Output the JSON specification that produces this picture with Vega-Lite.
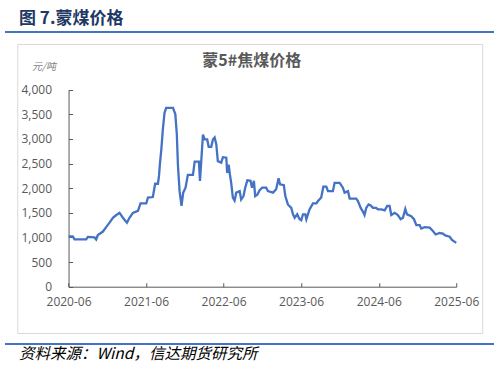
{
  "$schema": "https://vega.github.io/schema/vega-lite/v6.json",
  "padding": {"left": 5, "top": 8, "right": 0, "bottom": 0},
  "background": "white",
  "spacing": 9,
  "center": true,
  "config": {
    "font": "Noto Sans CJK SC",
    "view": {"stroke": null}
  },
  "vconcat": [
    {
      "width": 487,
      "height": 0.01,
      "view": {"stroke": "#4472c4", "strokeWidth": 2},
      "title": {"text": "图 7.蒙煤价格", "anchor": "start", "dx": 13, "fontSize": 17, "fontWeight": "bold", "color": "#203864", "baseline": "bottom", "offset": -12.5, "font": "Noto Sans CJK SC"},
      "data": {"values": []},
      "mark": {"type": "rule"},
      "encoding": {}
    },
    {
      "width": 465,
      "height": 289,
      "view": {"stroke": "#d9d9d9", "strokeWidth": 1},
      "title": {"text": "蒙5#焦煤价格", "anchor": "middle", "frame": "group", "dx": 2, "fontSize": 16, "fontWeight": "bold", "color": "#595959", "baseline": "top", "offset": -24.5, "font": "Noto Sans CJK SC"},
      "data": {"values": [
        {"date": "2020-06-01", "price": 1020}, {"date": "2020-06-21", "price": 1020}, {"date": "2020-06-29", "price": 960},
        {"date": "2020-08-23", "price": 960}, {"date": "2020-08-31", "price": 1010}, {"date": "2020-10-01", "price": 1000},
        {"date": "2020-10-09", "price": 960}, {"date": "2020-10-17", "price": 1050}, {"date": "2020-11-10", "price": 1120},
        {"date": "2020-11-25", "price": 1210}, {"date": "2020-12-11", "price": 1300}, {"date": "2020-12-27", "price": 1400},
        {"date": "2021-01-12", "price": 1455}, {"date": "2021-01-27", "price": 1500}, {"date": "2021-02-12", "price": 1400},
        {"date": "2021-03-03", "price": 1300}, {"date": "2021-03-15", "price": 1400}, {"date": "2021-03-31", "price": 1500},
        {"date": "2021-04-24", "price": 1540}, {"date": "2021-05-06", "price": 1690}, {"date": "2021-06-02", "price": 1690},
        {"date": "2021-06-10", "price": 1810}, {"date": "2021-07-03", "price": 1820}, {"date": "2021-07-14", "price": 2090},
        {"date": "2021-07-27", "price": 2090}, {"date": "2021-08-01", "price": 2250}, {"date": "2021-08-05", "price": 2480},
        {"date": "2021-08-12", "price": 2790}, {"date": "2021-08-19", "price": 3190}, {"date": "2021-08-27", "price": 3530},
        {"date": "2021-09-04", "price": 3630}, {"date": "2021-10-06", "price": 3630}, {"date": "2021-10-17", "price": 3500},
        {"date": "2021-10-24", "price": 3090}, {"date": "2021-10-29", "price": 2480}, {"date": "2021-11-06", "price": 1940},
        {"date": "2021-11-15", "price": 1640}, {"date": "2021-11-23", "price": 1910}, {"date": "2021-12-04", "price": 2010},
        {"date": "2021-12-15", "price": 2270}, {"date": "2022-01-08", "price": 2270}, {"date": "2022-01-16", "price": 2540},
        {"date": "2022-02-05", "price": 2540}, {"date": "2022-02-10", "price": 2150}, {"date": "2022-02-16", "price": 2550},
        {"date": "2022-02-24", "price": 3090}, {"date": "2022-03-04", "price": 2990}, {"date": "2022-03-16", "price": 2990},
        {"date": "2022-03-23", "price": 2840}, {"date": "2022-04-04", "price": 2840}, {"date": "2022-04-12", "price": 2990},
        {"date": "2022-04-20", "price": 3030}, {"date": "2022-04-28", "price": 2890}, {"date": "2022-05-05", "price": 2550},
        {"date": "2022-05-21", "price": 2520}, {"date": "2022-05-29", "price": 2630}, {"date": "2022-06-14", "price": 2620},
        {"date": "2022-06-18", "price": 2310}, {"date": "2022-06-25", "price": 2480}, {"date": "2022-07-01", "price": 2280},
        {"date": "2022-07-07", "price": 2110}, {"date": "2022-07-15", "price": 1810}, {"date": "2022-07-23", "price": 1750},
        {"date": "2022-07-31", "price": 1910}, {"date": "2022-08-16", "price": 1940}, {"date": "2022-08-23", "price": 1770},
        {"date": "2022-09-03", "price": 1840}, {"date": "2022-09-11", "price": 2010}, {"date": "2022-09-21", "price": 2160},
        {"date": "2022-10-06", "price": 2150}, {"date": "2022-10-13", "price": 2010}, {"date": "2022-10-22", "price": 2150},
        {"date": "2022-10-28", "price": 1840}, {"date": "2022-11-07", "price": 1870}, {"date": "2022-11-18", "price": 1960},
        {"date": "2022-11-30", "price": 2010}, {"date": "2022-12-19", "price": 2010}, {"date": "2022-12-27", "price": 1940},
        {"date": "2023-01-20", "price": 1910}, {"date": "2023-02-04", "price": 1980}, {"date": "2023-02-15", "price": 2200},
        {"date": "2023-02-22", "price": 2080}, {"date": "2023-03-12", "price": 2060}, {"date": "2023-03-19", "price": 1840},
        {"date": "2023-03-31", "price": 1670}, {"date": "2023-04-16", "price": 1600}, {"date": "2023-04-24", "price": 1470},
        {"date": "2023-05-02", "price": 1400}, {"date": "2023-05-14", "price": 1470}, {"date": "2023-05-25", "price": 1370},
        {"date": "2023-06-02", "price": 1350}, {"date": "2023-06-10", "price": 1470}, {"date": "2023-06-21", "price": 1470},
        {"date": "2023-06-26", "price": 1370}, {"date": "2023-07-11", "price": 1570}, {"date": "2023-07-27", "price": 1690},
        {"date": "2023-08-12", "price": 1690}, {"date": "2023-08-20", "price": 1740}, {"date": "2023-09-04", "price": 1810},
        {"date": "2023-09-14", "price": 2030}, {"date": "2023-09-28", "price": 2030}, {"date": "2023-10-06", "price": 1940},
        {"date": "2023-10-29", "price": 1940}, {"date": "2023-11-06", "price": 2110}, {"date": "2023-11-30", "price": 2110},
        {"date": "2023-12-15", "price": 2010}, {"date": "2023-12-23", "price": 1910}, {"date": "2024-01-08", "price": 1940},
        {"date": "2024-01-16", "price": 1790}, {"date": "2024-02-16", "price": 1790}, {"date": "2024-02-24", "price": 1740},
        {"date": "2024-03-08", "price": 1600}, {"date": "2024-03-19", "price": 1520}, {"date": "2024-03-26", "price": 1455},
        {"date": "2024-04-03", "price": 1600}, {"date": "2024-04-14", "price": 1670}, {"date": "2024-04-24", "price": 1650},
        {"date": "2024-05-05", "price": 1600}, {"date": "2024-05-20", "price": 1600}, {"date": "2024-05-28", "price": 1570},
        {"date": "2024-06-13", "price": 1570}, {"date": "2024-06-29", "price": 1550}, {"date": "2024-07-11", "price": 1640},
        {"date": "2024-07-22", "price": 1640}, {"date": "2024-07-30", "price": 1455}, {"date": "2024-08-15", "price": 1500},
        {"date": "2024-08-30", "price": 1455}, {"date": "2024-09-12", "price": 1370}, {"date": "2024-09-23", "price": 1400},
        {"date": "2024-10-04", "price": 1580}, {"date": "2024-10-12", "price": 1470}, {"date": "2024-11-01", "price": 1430},
        {"date": "2024-11-14", "price": 1370}, {"date": "2024-11-25", "price": 1250}, {"date": "2024-12-11", "price": 1250},
        {"date": "2024-12-18", "price": 1180}, {"date": "2025-01-03", "price": 1210}, {"date": "2025-01-27", "price": 1200},
        {"date": "2025-02-11", "price": 1130}, {"date": "2025-02-24", "price": 1060}, {"date": "2025-03-15", "price": 1090},
        {"date": "2025-03-30", "price": 1080}, {"date": "2025-04-10", "price": 1040}, {"date": "2025-05-01", "price": 1015},
        {"date": "2025-05-12", "price": 950}, {"date": "2025-06-01", "price": 890}
      ]},
      "mark": {"type": "line", "color": "#4472c4", "strokeWidth": 2.3},
      "encoding": {
        "x": {
          "field": "date", "type": "temporal",
          "scale": {"type": "utc", "domain": ["2020-06-01", "2025-06-01"], "range": [51.3, 439]},
          "axis": {
            "title": null, "orient": "bottom", "offset": -46.3,
            "values": ["2020-06-01", "2021-06-01", "2022-06-01", "2023-06-01", "2024-06-01", "2025-06-01"],
            "format": "%Y-%m",
            "grid": false, "domainColor": "#595959", "domainWidth": 1,
            "tickColor": "#595959", "tickSize": -4, "tickWidth": 1,
            "labelFont": "Open Sans", "labelFontSize": 12, "labelColor": "#595959", "labelPadding": 14,
            "labelFlush": false, "labelOverlap": false
          }
        },
        "y": {
          "field": "price", "type": "quantitative",
          "scale": {"domain": [0, 4000], "range": [242.7, 45.7], "nice": false, "zero": false},
          "axis": {
            "orient": "left", "offset": -51.3,
            "values": [0, 500, 1000, 1500, 2000, 2500, 3000, 3500, 4000],
            "format": ",d",
            "grid": false, "domainColor": "#595959", "domainWidth": 1,
            "tickColor": "#595959", "tickSize": -4, "tickWidth": 1,
            "labelFont": "Open Sans", "labelFontSize": 12, "labelColor": "#595959", "labelPadding": 21,
            "labelOverlap": false, "labelFlush": false,
            "title": "元/吨", "titleAngle": 0, "titleAlign": "left", "titleBaseline": "middle",
            "titleX": -37, "titleY": 22.5, "titleFontSize": 10, "titleFontWeight": "normal",
            "titleFontStyle": "italic", "titleColor": "#7f7f7f", "titleFont": "Noto Sans CJK SC"
          }
        }
      }
    },
    {
      "width": 487,
      "height": 0.01,
      "view": {"stroke": "#4472c4", "strokeWidth": 2},
      "title": {"text": "资料来源：Wind，信达期货研究所", "orient": "bottom", "anchor": "start", "dx": 13, "fontSize": 15.5, "fontWeight": "normal", "fontStyle": "italic", "color": "#000000", "baseline": "top", "offset": 3, "font": "Noto Sans CJK SC"},
      "data": {"values": []},
      "mark": {"type": "rule"},
      "encoding": {}
    }
  ]
}
